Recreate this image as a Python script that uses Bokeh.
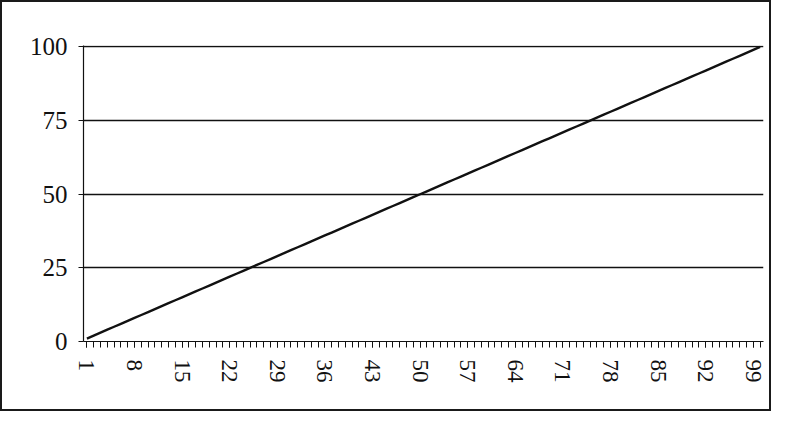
from bokeh.plotting import figure
from bokeh.models import FixedTicker, Range1d
from bokeh.embed import file_html
from bokeh.resources import INLINE

# data: position in series (1..100) and value
x_vals = [1, 2, 3, 4, 5, 6, 7, 8, 9, 10, 11, 12, 13, 14, 15, 16, 17, 18, 19, 20,
          21, 22, 23, 24, 25, 26, 27, 28, 29, 30, 31, 32, 33, 34, 35, 36, 37, 38, 39, 40,
          41, 42, 43, 44, 45, 46, 47, 48, 49, 50, 51, 52, 53, 54, 55, 56, 57, 58, 59, 60,
          61, 62, 63, 64, 65, 66, 67, 68, 69, 70, 71, 72, 73, 74, 75, 76, 77, 78, 79, 80,
          81, 82, 83, 84, 85, 86, 87, 88, 89, 90, 91, 92, 93, 94, 95, 96, 97, 98, 99, 100]
y_vals = [1, 2, 3, 4, 5, 6, 7, 8, 9, 10, 11, 12, 13, 14, 15, 16, 17, 18, 19, 20,
          21, 22, 23, 24, 25, 26, 27, 28, 29, 30, 31, 32, 33, 34, 35, 36, 37, 38, 39, 40,
          41, 42, 43, 44, 45, 46, 47, 48, 49, 50, 51, 52, 53, 54, 55, 56, 57, 58, 59, 60,
          61, 62, 63, 64, 65, 66, 67, 68, 69, 70, 71, 72, 73, 74, 75, 76, 77, 78, 79, 80,
          81, 82, 83, 84, 85, 86, 87, 88, 89, 90, 91, 92, 93, 94, 95, 96, 97, 98, 99, 100]
x_tick_labels = [1, 8, 15, 22, 29, 36, 43, 50, 57, 64, 71, 78, 85, 92, 99]
y_ticks = [0, 25, 50, 75, 100]

FONT = "Liberation Serif"
INK = "#111111"

p = figure(width=771, height=411, output_backend="svg", toolbar_location=None,
           x_range=Range1d(0.5, 100.5), y_range=Range1d(0, 100.5),
           min_border_left=81, min_border_right=10, min_border_top=43, min_border_bottom=72,
           background_fill_color="white", border_fill_color="white")
p.styles = {"border": "2px solid #1a1a1a"}
p.outline_line_color = None

p.line(x_vals, y_vals, line_color=INK, line_width=2.4)

# grid
p.xgrid.visible = False
p.ygrid.ticker = FixedTicker(ticks=[25, 50, 75, 100])
p.ygrid.grid_line_color = INK
p.ygrid.grid_line_width = 1.4
p.ygrid.grid_line_alpha = 1.0

# y axis
p.yaxis.ticker = FixedTicker(ticks=y_ticks)
p.yaxis.axis_line_color = INK
p.yaxis.axis_line_width = 1.2
p.yaxis.major_tick_line_color = INK
p.yaxis.major_tick_out = 5
p.yaxis.major_tick_in = 0
p.yaxis.minor_tick_line_color = None
p.yaxis.major_label_standoff = 11
p.yaxis.major_label_text_font = FONT
p.yaxis.major_label_text_font_size = "25px"
p.yaxis.major_label_text_color = INK

# x axis
p.xaxis.ticker = FixedTicker(ticks=x_tick_labels, minor_ticks=x_vals)
p.xaxis.axis_line_color = INK
p.xaxis.axis_line_width = 1.2
p.xaxis.major_tick_line_color = INK
p.xaxis.minor_tick_line_color = INK
p.xaxis.major_tick_out = 6
p.xaxis.major_tick_in = 0
p.xaxis.minor_tick_out = 6
p.xaxis.minor_tick_in = 0
p.xaxis.major_label_orientation = "vertical"
p.xaxis.major_label_standoff = 12
p.xaxis.major_label_text_font = FONT
p.xaxis.major_label_text_font_size = "23px"
p.xaxis.major_label_text_color = INK

open("out.html", "w").write(file_html(p, INLINE))
